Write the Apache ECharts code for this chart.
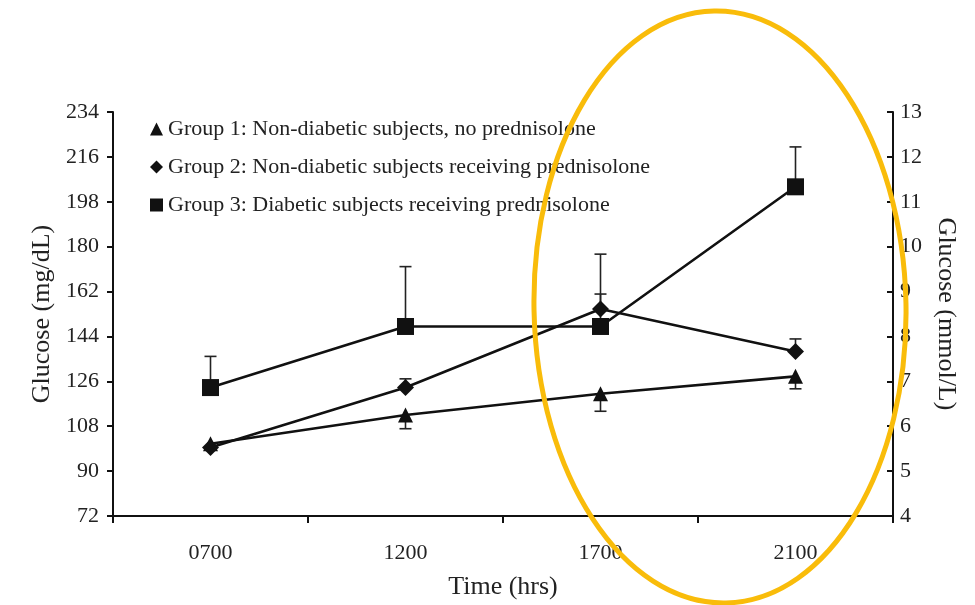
<!DOCTYPE html>
<html>
<head>
<meta charset="utf-8">
<script src="https://cdn.jsdelivr.net/npm/echarts@6/dist/echarts.min.js"></script>
<style>html,body{margin:0;padding:0;background:#fff}#c{width:975px;height:605px}</style>
</head>
<body>
<div id="c"></div>
<script>
const categories = ['0700', '1200', '1700', '2100'];
const group1 = [101, 112.5, 121, 128];
const group1ErrDown = [0, 5.5, 7, 5];
const group2 = [99.5, 123.5, 155, 138];
const group2ErrUp = [0, 3.5, 6, 5];
const group3 = [123.5, 148, 148, 204];
const group3ErrUp = [12.5, 24, 29, 16];
const names = [
  'Group 1: Non-diabetic subjects, no prednisolone',
  'Group 2: Non-diabetic subjects receiving prednisolone',
  'Group 3: Diabetic subjects receiving prednisolone'
];
const leftTicks = [72, 234, 18];
const rightTicks = [4, 13, 1];

const FONT = 'Liberation Serif';
const chart = echarts.init(document.getElementById('c'));

function errData(vals, errs, dir) {
  return vals.map((v, i) => [i, v, v + dir * errs[i]]);
}
function errSeries(data) {
  return {
    type: 'custom',
    silent: true,
    z: 1,
    data: data,
    renderItem: function (params, api) {
      const p0 = api.coord([api.value(0), api.value(1)]);
      const p1 = api.coord([api.value(0), api.value(2)]);
      if (Math.abs(p1[1] - p0[1]) < 1) return null;
      const w = 6;
      const st = { stroke: '#222', lineWidth: 1.6 };
      return {
        type: 'group',
        children: [
          { type: 'line', shape: { x1: p0[0], y1: p0[1], x2: p1[0], y2: p1[1] }, style: st },
          { type: 'line', shape: { x1: p1[0] - w, y1: p1[1], x2: p1[0] + w, y2: p1[1] }, style: st }
        ]
      };
    }
  };
}
function lineSeries(name, vals, symbol, size) {
  return {
    name: name,
    type: 'line',
    data: vals,
    symbol: symbol,
    symbolSize: size,
    z: 3,
    lineStyle: { color: '#111', width: 2.6 },
    itemStyle: { color: '#111' }
  };
}

chart.setOption({
  animation: false,
  backgroundColor: '#fff',
  grid: { left: 113, right: 82, top: 112, bottom: 88 },
  legend: {
    orient: 'vertical',
    left: 145,
    top: 113,
    itemWidth: 13,
    itemHeight: 13,
    itemGap: 16,
    textStyle: { fontFamily: FONT, fontSize: 22, color: '#222' },
    data: [
      { name: names[0], icon: 'triangle' },
      { name: names[1], icon: 'diamond' },
      { name: names[2], icon: 'rect' }
    ]
  },
  xAxis: {
    type: 'category',
    data: categories,
    boundaryGap: true,
    name: 'Time (hrs)',
    nameLocation: 'middle',
    nameGap: 58,
    nameTextStyle: { fontFamily: FONT, fontSize: 26, color: '#222', verticalAlign: 'top' },
    axisLine: { lineStyle: { color: '#111', width: 2 } },
    axisTick: { show: true, length: 7, lineStyle: { color: '#111', width: 2 } },
    axisLabel: { margin: 26, fontFamily: FONT, fontSize: 22, color: '#222' }
  },
  yAxis: [
    {
      type: 'value',
      min: leftTicks[0], max: leftTicks[1], interval: leftTicks[2],
      name: 'Glucose (mg/dL)',
      nameLocation: 'middle',
      nameGap: 58,
      nameTextStyle: { fontFamily: FONT, fontSize: 26, color: '#222' },
      axisLine: { show: true, lineStyle: { color: '#111', width: 2 } },
      axisTick: { show: true, length: 6, lineStyle: { color: '#111', width: 2 } },
      axisLabel: { margin: 14, fontFamily: FONT, fontSize: 22, color: '#222' },
      splitLine: { show: false }
    },
    {
      type: 'value',
      position: 'right',
      min: rightTicks[0], max: rightTicks[1], interval: rightTicks[2],
      name: 'Glucose (mmol/L)',
      nameLocation: 'middle',
      nameRotate: -90,
      nameGap: 40,
      nameTextStyle: { fontFamily: FONT, fontSize: 26, color: '#222' },
      axisLine: { show: true, lineStyle: { color: '#111', width: 2 } },
      axisTick: { show: true, inside: true, length: 6, lineStyle: { color: '#111', width: 2 } },
      axisLabel: { margin: 7, fontFamily: FONT, fontSize: 22, color: '#222' },
      splitLine: { show: false }
    }
  ],
  series: [
    errSeries(errData(group1, group1ErrDown, -1)),
    errSeries(errData(group2, group2ErrUp, 1)),
    errSeries(errData(group3, group3ErrUp, 1)),
    lineSeries(names[0], group1, 'triangle', 15),
    lineSeries(names[1], group2, 'diamond', 17),
    lineSeries(names[2], group3, 'rect', 17)
  ],
  graphic: [
    {
      type: 'ellipse',
      z: 100,
      silent: true,
      x: 720, y: 307,
      rotation: 0.02,
      shape: { cx: 0, cy: 0, rx: 186, ry: 296 },
      style: { fill: 'none', stroke: '#F9BC0A', lineWidth: 5 }
    }
  ]
});
</script>
</body>
</html>
